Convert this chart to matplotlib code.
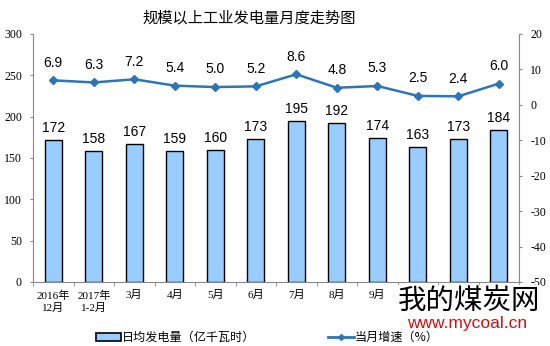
import numpy as np
import matplotlib.pyplot as plt
from matplotlib.patches import Patch
from matplotlib.lines import Line2D

plt.rcParams['font.family'] = ['Noto Sans CJK SC', 'DejaVu Sans']

months = ['2016年\n12月', '2017年\n1-2月', '3月', '4月', '5月', '6月',
          '7月', '8月', '9月', '10月', '11月', '12月']
daily_output = [172, 158, 167, 159, 160, 173, 195, 192, 174, 163, 173, 184]
growth = [6.9, 6.3, 7.2, 5.4, 5.0, 5.2, 8.6, 4.8, 5.3, 2.5, 2.4, 6.0]

bar_color = '#99CCFF'
line_color = '#2E75B6'
serif = ['Liberation Serif', 'Noto Sans CJK SC']

fig = plt.figure(figsize=(5.5, 3.46), dpi=100)
ax = fig.add_axes([0.06, 0.185, 0.884, 0.717])
x = np.arange(len(months))

ax.bar(x, daily_output, width=0.42, color=bar_color, edgecolor='black', linewidth=1.0, zorder=2)
for xi, v in zip(x, daily_output):
    ax.text(xi, v + 6, str(v), ha='center', va='bottom', fontsize=10, family='Liberation Sans')

ax.set_xlim(-0.5, len(months) - 0.5)
ax.set_ylim(0, 300)
ax.set_yticks(range(0, 301, 50))
ax.set_yticklabels([str(t) for t in range(0, 301, 50)], family=serif, fontsize=8.5)
ax.set_xticks(x)
ax.set_xticklabels(months, fontsize=8, family=serif, linespacing=1.3)
ax.set_xticks(np.arange(-0.5, len(months), 1), minor=True)
ax.tick_params(axis='x', which='major', length=0, pad=6)
ax.tick_params(axis='x', which='minor', length=3, direction='out', color='#888888')
ax.tick_params(axis='y', length=2, direction='out', color='#888888', pad=6)
for s in ['top', 'right']:
    ax.spines[s].set_visible(False)
for s in ['left', 'bottom']:
    ax.spines[s].set_color('#888888')

ax2 = ax.twinx()
ax2.plot(x, growth, color=line_color, marker='D', markersize=4.5, linewidth=1.8, zorder=3)
for xi, v in zip(x, growth):
    ax2.text(xi, v + 3.0, '%.1f' % v, ha='center', va='bottom', fontsize=10, family='Liberation Sans')
ax2.set_ylim(-50, 20)
ax2.set_yticks(range(-50, 21, 10))
ax2.set_yticklabels([str(t) for t in range(-50, 21, 10)], family=serif, fontsize=8.5)
ax2.tick_params(axis='y', length=2, direction='out', color='#888888', pad=6)
for s in ['top', 'left', 'bottom']:
    ax2.spines[s].set_visible(False)
ax2.spines['right'].set_color('#888888')

fig.text(0.453, 0.948, '规模以上工业发电量月度走势图', ha='center', va='center', fontsize=11)

handles = [Patch(facecolor=bar_color, edgecolor='black', linewidth=1.2),
           Line2D([0], [0], color=line_color, marker='D', markersize=3, linewidth=2)]
fig.legend(handles, ['日均发电量（亿千瓦时）', '当月增速（%）'], loc='center',
           bbox_to_anchor=(0.486, 0.024), ncol=2, frameon=False, fontsize=8.7,
           columnspacing=6.0, handlelength=2.1, handletextpad=0.1, borderpad=0)

# watermark
fig.text(0.853, 0.13, '我的煤炭网', ha='center', va='center', fontsize=20.5, color='black',
         bbox=dict(facecolor='white', edgecolor='none', pad=1))
fig.text(0.849, 0.066, 'www.mycoal.cn', ha='center', va='center', fontsize=12.5,
         color='#CC1111', family='Liberation Sans')

fig.savefig('out.png', dpi=100)
